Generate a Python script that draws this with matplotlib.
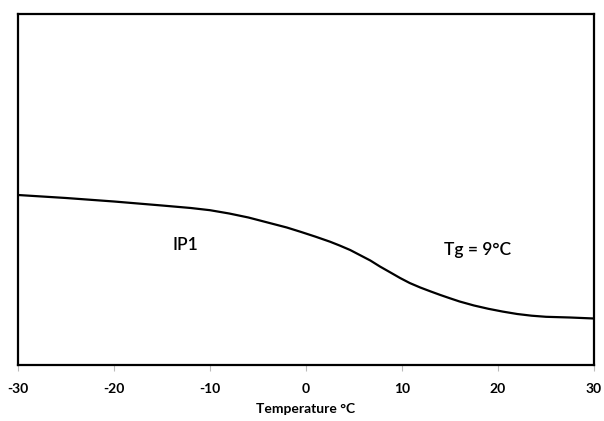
import matplotlib
matplotlib.use("Agg")
import matplotlib.pyplot as plt

temperature = [-30, -25, -20, -15, -12, -10, -8, -6, -4, -2, -0.5, 1, 2.5, 3.5, 4.6, 5.6, 6.7, 7.7, 8.8, 9.8, 10.8, 11.9, 13, 14, 15, 16, 17.5, 19, 20.5, 22, 23.5, 25, 27.5, 30]
heat_flow = [170, 167, 163.5, 159.5, 157, 154.8, 151.5, 147.5, 142.5, 137.5, 133, 128.3, 123.3, 119.5, 115, 110, 104.5, 98.5, 92.5, 87, 82, 77.5, 73.5, 70, 66.7, 63.5, 59.5, 56.2, 53.4, 51, 49.3, 48.2, 47.5, 46.5]
xticks = [-30, -20, -10, 0, 10, 20, 30]

plt.rcParams['font.family'] = ['Lato', 'DejaVu Sans']

fig = plt.figure(figsize=(6.04, 4.21), dpi=100)
ax = fig.add_axes([18/604, 56/421, 576/604, 351/421])
ax.plot(temperature, heat_flow, color='black', lw=1.6, solid_joinstyle='round')
ax.set_xlim(-30, 30)
ax.set_ylim(0, 351)
ax.set_xticks(xticks)
ax.set_xticklabels([str(t) for t in xticks], fontsize=10, fontweight='bold')
ax.set_yticks([])
ax.tick_params(axis='x', direction='out', length=4, width=0.8, color='#bbbbbb', pad=9)
for s in ax.spines.values():
    s.set_linewidth(1.6)
    s.set_color('black')
ax.set_xlabel('Temperature °C', fontsize=10, fontweight='bold', labelpad=6)
ax.text(-12.6, 120, 'IP1', fontsize=12.5, fontweight='semibold', ha='center', va='center')
ax.text(17.9, 115, 'Tg = 9°C', fontsize=12.5, fontweight='semibold', ha='center', va='center')
fig.savefig('out.png', dpi=100)
